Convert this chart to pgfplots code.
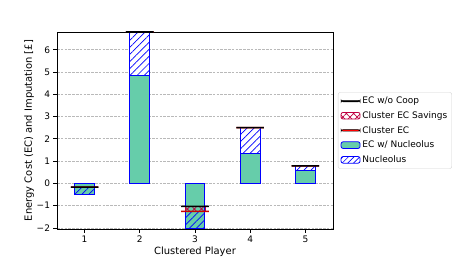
\documentclass[border=0pt]{standalone}
\usepackage{fontspec}
\setmainfont{DejaVu Sans}
\usepackage{pgfplots}
\pgfplotsset{compat=1.18}
\usetikzlibrary{patterns,patterns.meta}
\definecolor{mgreen}{HTML}{66CDAA}
\newcommand{\f}{\fontsize{9bp}{11bp}\selectfont}
\pgfplotsset{
  common/.style={
    scale only axis, width=276bp, height=197bp,
    xmin=0.5, xmax=5.5, ymin=-2.05, ymax=6.8,
    at={(0,0)}, anchor=south west,
    bar width=0.36,
  },
  hid/.style={common, hide axis},
  lineleg/.style={legend image code/.code={\fill[##1] (0bp,-0.8bp) rectangle (19bp,0.8bp);}},
  boxleg/.style={legend image code/.code={\draw[##1] (0bp,-3.3bp) rectangle (19bp,3.3bp);}},
}
\begin{document}
\begin{tikzpicture}
% main axis: grid, ticks, labels, white mask under hatched parts
\begin{axis}[common, ybar stacked, stack negative=on previous,
  xtick={1,2,3,4,5}, xticklabels={1,2,3,4,5},
  ytick={-2,-1,0,1,2,3,4,5,6}, yticklabels={−2,−1,0,1,2,3,4,5,6},
  tick align=outside, tick pos=left, major tick length=3.5bp,
  tick style={black, line width=0.7bp},
  axis line style={line width=0.7bp},
  ymajorgrids, grid style={gray!55, line width=0.7bp, dash pattern=on 2.6bp off 1.2bp},
  tick label style={font=\f},
  xlabel={Clustered Player}, ylabel={Energy Cost (EC) and Imputation [£]},
  label style={font=\f},
  every axis x label/.style={at={(axis description cs:0.5,-0.117)}, anchor=center},
  every axis y label/.style={at={(axis description cs:-0.101,0.5)}, rotate=90, anchor=center},
]
\addplot[draw=none, fill=none] coordinates {(1,-0.17) (2,4.85) (3,-1.26) (4,1.33) (5,0.60)};
\addplot[draw=none, fill=white] coordinates {(1,-0.31) (2,1.95) (3,-0.77) (4,1.17) (5,0.19)};
\end{axis}
% EC w/ Nucleolus (green bars)
\begin{axis}[hid, ybar, bar shift=0pt]
\addplot[fill=mgreen, draw=blue, line width=1bp] coordinates {(1,-0.48) (2,4.85) (3,-2.03) (4,1.33) (5,0.60)};
\end{axis}
% Nucleolus hatched bars and Cluster EC savings
\begin{axis}[hid, ybar stacked, stack negative=on previous]
\addplot[draw=none, fill=none] coordinates {(1,-0.17) (2,4.85) (3,-1.26) (4,1.33) (5,0.60)};
\addplot[draw=blue, line width=1bp, fill=none, pattern={Lines[angle=45,distance=5bp,line width=0.7bp]}, pattern color=blue] coordinates {(1,-0.31) (2,1.95) (3,-0.77) (4,1.17) (5,0.19)};
\addplot[draw=none, fill=none] coordinates {(1,0.31) (2,-1.95) (3,1.00) (4,-1.17) (5,-0.19)};
\addplot[draw=purple, line width=0.8bp, fill=none, pattern={Hatch[angle=45,distance=5bp,line width=0.7bp]}, pattern color=purple] coordinates {(1,0) (2,0) (3,-0.23) (4,0) (5,0)};
\end{axis}
% EC w/o Coop (black) and Cluster EC (red) as thin bars of height 0.07, bar width 0.5
\begin{axis}[hid, ybar stacked, stack negative=on previous, bar width=0.5,
  legend style={at={(1.018,0.5)}, anchor=west, draw=gray!35, rounded corners=2bp,
    font=\f, row sep=2.4bp, inner sep=2.5bp},
  legend cell align=left,
]
\addplot[forget plot, draw=none, fill=none] coordinates {(1,-0.205) (2,6.765) (3,-1.065) (4,2.465) (5,0.755)};
\addplot[forget plot, draw=none, fill=black] coordinates {(1,0.07) (2,0.07) (3,0.07) (4,0.07) (5,0.07)};
\addplot[forget plot, draw=none, fill=none] coordinates {(1,-0.07) (2,-0.07) (3,-0.30) (4,-0.07) (5,-0.07)};
\addplot[forget plot, draw=none, fill=red!80!black] coordinates {(1,0.07) (2,0.07) (3,0.07) (4,0.07) (5,0.07)};
\addlegendimage{lineleg, fill=black}
\addlegendentry{EC w/o Coop}
\addlegendimage{boxleg, draw=purple, line width=0.8bp, pattern={Hatch[angle=45,distance=5bp,line width=0.7bp]}, pattern color=purple}
\addlegendentry{Cluster EC Savings}
\addlegendimage{lineleg, fill=red}
\addlegendentry{Cluster EC}
\addlegendimage{boxleg, fill=mgreen, draw=blue, line width=0.8bp}
\addlegendentry{EC w/ Nucleolus}
\addlegendimage{boxleg, draw=blue, line width=0.8bp, pattern={Lines[angle=45,distance=4bp,line width=0.7bp]}, pattern color=blue}
\addlegendentry{Nucleolus}
\end{axis}
\pgfresetboundingbox
\useasboundingbox (-57bp,-33bp) rectangle (401bp,229bp);
\end{tikzpicture}
\end{document}
